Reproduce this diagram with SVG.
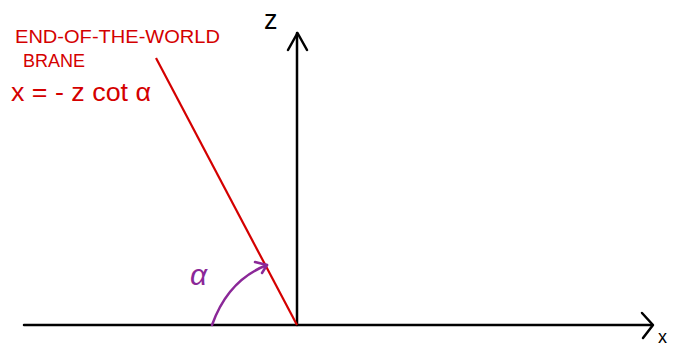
<svg xmlns="http://www.w3.org/2000/svg" width="673" height="349" viewBox="0 0 673 349">
<style>
.ax{fill:none;stroke:#000;stroke-width:2.5;stroke-linecap:round;stroke-linejoin:round}
.red{fill:#d40000;font-family:"Liberation Sans",Arial,sans-serif}
.pur{fill:none;stroke:#8b2898;stroke-width:2.5;stroke-linecap:round;stroke-linejoin:round}
.lbl{font-family:"Liberation Sans",Arial,sans-serif}
</style>
<rect width="673" height="349" fill="#fff"/>
<g id="connectors">
<path class="ax" d="M24,325 L652,325"/>
<path class="ax" d="M642,313 L653,325 L643,338"/>
<path class="ax" d="M297,325 L297,33"/>
<path class="ax" d="M288,50 L297.5,33 L307,50"/>
<path d="M156,58 L297,325" fill="none" stroke="#d40000" stroke-width="2.2"/>
<path class="pur" d="M212,325 Q228,280 267,265"/>
<path class="pur" d="M255,262 L267,265 L262,273"/>
</g>
<g id="z-label"><text class="lbl" x="264" y="29" font-size="27" fill="#000">z</text></g>
<g id="x-label"><text class="lbl" x="658" y="343" font-size="18" fill="#000">x</text></g>
<g id="brane-label">
<text class="red" x="15" y="43" font-size="18" textLength="205" lengthAdjust="spacingAndGlyphs">END-OF-THE-WORLD</text>
<text class="red" x="23" y="67" font-size="18" textLength="62" lengthAdjust="spacingAndGlyphs">BRANE</text>
<text class="red" x="11" y="101" font-size="25" textLength="140" lengthAdjust="spacingAndGlyphs">x = - z cot α</text>
</g>
<g id="alpha-label"><text class="lbl" x="190" y="285" font-size="30" fill="#8b2898" font-style="italic">α</text></g>
</svg>
